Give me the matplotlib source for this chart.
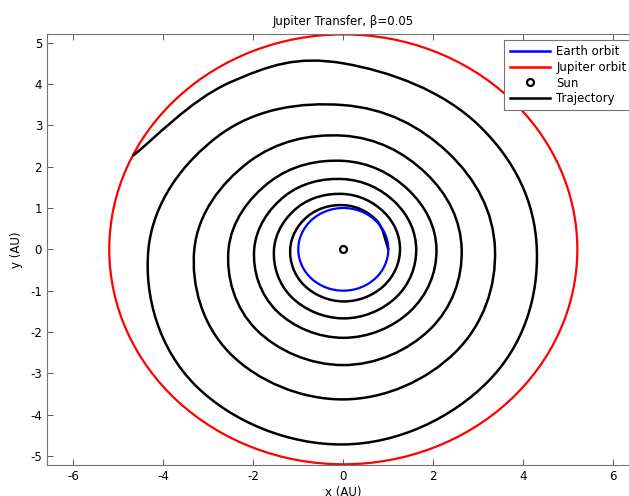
import numpy as np
import matplotlib
matplotlib.use("Agg")
import matplotlib.pyplot as plt
from matplotlib.path import Path
from matplotlib.patches import PathPatch, Circle
from matplotlib.lines import Line2D

# ---------------- data ----------------
title_text = "Jupiter Transfer, \u03b2=0.05"
x_label = "x (AU)"
y_label = "y (AU)"
x_ticks = [-6, -4, -2, 0, 2, 4, 6]
y_ticks = [-5, -4, -3, -2, -1, 0, 1, 2, 3, 4, 5]

earth_radius = 1.0      # AU
jupiter_radius = 5.2    # AU
sun_x = [0.0]
sun_y = [0.0]

# trajectory: polar angle (deg, cumulative) and heliocentric distance (AU)
traj_angle_deg = [
    0, 45, 90, 135, 180, 225, 270, 315,
    360, 405, 450, 495, 540, 585, 630, 675,
    720, 765, 810, 855, 900, 945, 990, 1035,
    1080, 1125, 1170, 1215, 1260, 1305, 1350, 1395,
    1440, 1485, 1530, 1575, 1620, 1665, 1710, 1755,
    1800, 1845, 1890, 1935, 1980, 2025, 2070, 2115,
    2160, 2205, 2250, 2282, 2314,
]
traj_radius = [
    1.00, 1.02, 1.07, 1.125, 1.18, 1.23, 1.26, 1.26,
    1.26, 1.275, 1.34, 1.435, 1.54, 1.63, 1.67, 1.65,
    1.62, 1.62, 1.70, 1.83, 1.98, 2.10, 2.14, 2.11,
    2.07, 2.04, 2.14, 2.31, 2.55, 2.74, 2.80, 2.73,
    2.63, 2.60, 2.75, 2.98, 3.31, 3.56, 3.63, 3.52,
    3.37, 3.30, 3.49, 3.90, 4.33, 4.65, 4.72, 4.535,
    4.30, 4.25, 4.50, 4.76, 5.19,
]

legend_labels = ["Earth orbit", "Jupiter orbit", "Sun", "Trajectory"]

# ---------------- style ----------------
FS = 8.5
plt.rcParams["font.family"] = ["DejaVu Sans"]
plt.rcParams["axes.unicode_minus"] = False

W, H = 629, 496
fig = plt.figure(figsize=(W / 100, H / 100), dpi=100)
fig.patch.set_facecolor("white")

ax_left, ax_right, ax_top, ax_bottom = 46.7, 639.9, 34.0, 464.7
ax = fig.add_axes([ax_left / W, 1 - ax_bottom / H,
                   (ax_right - ax_left) / W, (ax_bottom - ax_top) / H])

# trajectory as a smooth curve through the read points
th = np.deg2rad(np.array(traj_angle_deg, dtype=float))
rr = np.array(traj_radius, dtype=float)
pts = np.column_stack([rr * np.cos(th), rr * np.sin(th)])
n = len(pts)
tension = 1.12
verts = [pts[0]]
codes = [Path.MOVETO]
for i in range(n - 1):
    p0 = pts[i - 1] if i > 0 else pts[i]
    p1 = pts[i]
    p2 = pts[i + 1]
    p3 = pts[i + 2] if i + 2 < n else pts[i + 1]
    c1 = p1 + (p2 - p0) / 6.0 * tension
    c2 = p2 - (p3 - p1) / 6.0 * tension
    verts += [c1, c2, p2]
    codes += [Path.CURVE4] * 3
ax.add_patch(PathPatch(Path(verts, codes), fill=False, edgecolor="black",
                       linewidth=1.8, capstyle="round", joinstyle="round",
                       zorder=3))

# orbits
ax.add_patch(Circle((0, 0), earth_radius, fill=False, edgecolor=(0, 0, 1),
                    linewidth=1.6, zorder=4))
ax.add_patch(Circle((0, 0), jupiter_radius, fill=False, edgecolor=(1, 0, 0),
                    linewidth=1.6, zorder=2))
ax.plot(sun_x, sun_y, linestyle="none", marker="o", markersize=5.0,
        markerfacecolor="white", markeredgecolor="black",
        markeredgewidth=1.6, zorder=5)

# axes
ax.set_xlim(-6.59, 6.59)
ax.set_ylim(-5.21, 5.21)
ax.set_xticks(x_ticks)
ax.set_yticks(y_ticks)
ax.set_xticklabels([str(v) for v in x_ticks])
ax.set_yticklabels([str(v) for v in y_ticks])
ax.tick_params(axis="both", direction="in", length=4.3, width=0.7,
               color="0.35", labelsize=FS, labelcolor="black",
               top=True, right=True)
ax.tick_params(axis="x", pad=4.0)
ax.tick_params(axis="y", pad=3.3)
for s in ax.spines.values():
    s.set_color("0.45")
    s.set_linewidth(0.8)

ax.set_title(title_text, fontsize=FS, pad=6.5)
ax.set_xlabel(x_label, fontsize=FS, labelpad=2)
ax.set_ylabel(y_label, fontsize=FS, labelpad=5)

handles = [
    Line2D([], [], color=(0, 0, 1), linewidth=1.8),
    Line2D([], [], color=(1, 0, 0), linewidth=1.8),
    Line2D([], [], linestyle="none", marker="o", markersize=5.0,
           markerfacecolor="white", markeredgecolor="black",
           markeredgewidth=1.6),
    Line2D([], [], color="black", linewidth=1.8),
]
leg = ax.legend(handles, legend_labels, loc="upper left",
                bbox_to_anchor=(504.3 / W, 1 - 40 / H),
                bbox_transform=fig.transFigure, borderaxespad=0,
                fontsize=FS, frameon=True, fancybox=False, shadow=False,
                framealpha=1, edgecolor="0.45", handlelength=3.45,
                handletextpad=0.5, borderpad=0.45, labelspacing=0.22)
leg.get_frame().set_linewidth(0.8)
leg.set_zorder(10)

fig.savefig("out.png", dpi=100, facecolor="white")
